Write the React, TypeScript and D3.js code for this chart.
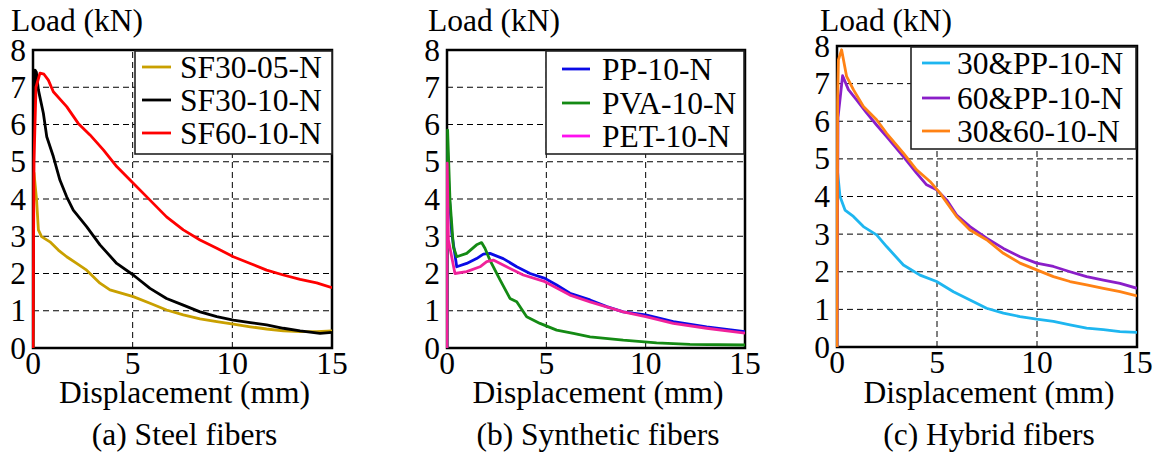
import React from "react";
import * as d3 from "d3";

// ---------- data ----------
const xTicks = [0, 5, 10, 15];
const yTicks = [0, 1, 2, 3, 4, 5, 6, 7, 8];
const xTitle = "Displacement (mm)";
const yTitle = "Load (kN)";

// (a) Steel fibers
const sf30_05: [number, number][] = [
  [0, 0], [0.02, 3.4], [0.05, 4.7], [0.18, 3.97], [0.27, 3.17], [0.43, 2.99], [0.85, 2.85], [1.27, 2.63],
  [1.69, 2.45], [2.19, 2.27], [2.69, 2.09], [3.36, 1.74], [3.86, 1.56], [5.03, 1.38], [5.87, 1.2],
  [6.7, 1.02], [7.54, 0.89], [8.38, 0.78], [9.22, 0.71], [10.05, 0.64], [10.9, 0.57], [11.72, 0.51],
  [12.56, 0.46], [13.4, 0.44], [14.23, 0.44], [15, 0.46],
];
const sf30_10: [number, number][] = [
  [0, 0], [0.04, 6.0], [0.1, 7.46], [0.17, 7.4], [0.27, 6.93], [0.52, 6.3], [0.69, 5.67], [1.02, 5.14],
  [1.35, 4.51], [1.69, 4.06], [2.02, 3.7], [2.69, 3.26], [3.36, 2.77], [4.2, 2.27], [5.03, 1.96],
  [5.87, 1.6], [6.7, 1.33], [7.54, 1.15], [8.38, 0.97], [9.22, 0.84], [10.05, 0.75], [10.9, 0.68],
  [11.72, 0.62], [12.56, 0.53], [13.4, 0.46], [14.4, 0.39], [15, 0.42],
];
const sf60_10: [number, number][] = [
  [0, 0], [0.05, 5.0], [0.15, 7.0], [0.35, 7.38], [0.55, 7.35], [0.77, 7.19], [1.02, 6.88], [1.69, 6.48],
  [2.27, 6.03], [2.86, 5.72], [3.53, 5.32], [4.2, 4.87], [5.03, 4.42], [5.87, 3.97], [6.7, 3.52],
  [7.54, 3.17], [8.38, 2.9], [9.22, 2.68], [10.05, 2.45], [10.9, 2.27], [11.72, 2.09], [12.56, 1.96],
  [13.4, 1.84], [14.23, 1.75], [15, 1.62],
];

// (b) Synthetic fibers
const pp_10: [number, number][] = [
  [0, 0], [0.03, 5.3], [0.1, 4.2], [0.24, 3.08], [0.49, 2.18], [0.99, 2.27], [1.49, 2.4], [1.83, 2.52],
  [2.16, 2.54], [2.83, 2.4], [3.51, 2.18], [4.18, 2.0], [4.93, 1.87], [5.52, 1.69], [6.19, 1.47],
  [7.2, 1.29], [8.04, 1.11], [8.87, 0.97], [10.0, 0.89], [11.39, 0.71], [13.07, 0.57], [15, 0.44],
];
const pva_10: [number, number][] = [
  [0, 0], [0.03, 5.85], [0.15, 3.97], [0.32, 2.72], [0.49, 2.45], [0.99, 2.54], [1.49, 2.77], [1.74, 2.83],
  [1.91, 2.68], [2.16, 2.36], [2.67, 1.83], [3.17, 1.33], [3.51, 1.24], [4.01, 0.84], [4.68, 0.66],
  [5.52, 0.48], [6.36, 0.39], [7.2, 0.3], [8.87, 0.21], [10.55, 0.14], [12.23, 0.1], [15, 0.08],
];
const pet_10: [number, number][] = [
  [0, 0], [0.01, 4.96], [0.07, 2.9], [0.4, 2.0], [0.99, 2.05], [1.66, 2.18], [2.0, 2.32], [2.33, 2.36],
  [3.0, 2.18], [3.84, 1.96], [4.93, 1.78], [6.19, 1.42], [7.2, 1.24], [8.87, 0.97], [10.0, 0.84],
  [11.39, 0.66], [13.07, 0.53], [15, 0.4],
];

// (c) Hybrid fibers
const h30pp_10: [number, number][] = [
  [0, 0], [0.02, 4.7], [0.15, 4.0], [0.4, 3.64], [0.82, 3.47], [1.32, 3.2], [1.98, 2.98], [2.48, 2.67],
  [3.32, 2.18], [4.15, 1.91], [4.98, 1.74], [5.82, 1.47], [6.65, 1.25], [7.48, 1.03], [8.32, 0.9],
  [9.15, 0.81], [9.98, 0.74], [10.82, 0.68], [11.65, 0.59], [12.48, 0.5], [13.32, 0.46], [14.15, 0.41],
  [15, 0.39],
];
const h60pp_10: [number, number][] = [
  [0, 0], [0.05, 6.1], [0.28, 7.21], [0.57, 6.84], [0.98, 6.57], [1.48, 6.22], [1.98, 5.9], [2.48, 5.59],
  [3.32, 5.06], [3.98, 4.62], [4.48, 4.31], [4.98, 4.18], [5.48, 3.91], [5.98, 3.51], [6.65, 3.2],
  [7.48, 2.89], [8.32, 2.62], [9.15, 2.4], [9.98, 2.23], [10.82, 2.14], [11.65, 2.0], [12.48, 1.87],
  [13.32, 1.78], [14.15, 1.69], [15, 1.56],
];
const h3060_10: [number, number][] = [
  [0, 0], [0.03, 6.5], [0.07, 7.63], [0.23, 7.9], [0.48, 7.19], [0.82, 6.84], [1.32, 6.39], [1.98, 6.04],
  [2.48, 5.68], [3.32, 5.15], [3.98, 4.71], [4.65, 4.4], [5.15, 4.09], [5.98, 3.47], [6.65, 3.11],
  [7.48, 2.85], [8.32, 2.49], [9.15, 2.23], [9.98, 2.05], [10.82, 1.87], [11.65, 1.74], [12.48, 1.65],
  [13.32, 1.56], [14.15, 1.47], [15, 1.36],
];

const namesA = ["SF30-05-N", "SF30-10-N", "SF60-10-N"];
const namesB = ["PP-10-N", "PVA-10-N", "PET-10-N"];
const namesC = ["30&PP-10-N", "60&PP-10-N", "30&60-10-N"];
const captions = ["(a) Steel fibers", "(b) Synthetic fibers", "(c) Hybrid fibers"];

// ---------- styles / layout ----------
const FONT = "Liberation Serif";
const FS = 31.5;

type Series = { name: string; data: [number, number][]; color: string; legendColor: string };

const panels = [
  {
    box: { left: 33, right: 332, top: 50, bottom: 348 },
    legend: { x0: 135, x1: 332, y0: 51, y1: 154, lx0: 142, lx1: 171, tx: 180, rows: [67, 100, 133] },
    loadX: 11,
    caption: captions[0],
    series: [
      { name: namesA[0], data: sf30_05, color: "#C9A000", legendColor: "#C9A000" },
      { name: namesA[1], data: sf30_10, color: "#000000", legendColor: "#000000" },
      { name: namesA[2], data: sf60_10, color: "#FF0000", legendColor: "#FF0000" },
    ] as Series[],
  },
  {
    box: { left: 447, right: 745, top: 50, bottom: 348 },
    legend: { x0: 546, x1: 744, y0: 51, y1: 154, lx0: 562, lx1: 590, tx: 602, rows: [69, 103, 136] },
    loadX: 428,
    caption: captions[1],
    series: [
      { name: namesB[0], data: pp_10, color: "#0A0AE6", legendColor: "#0A0AE6" },
      { name: namesB[1], data: pva_10, color: "#148A14", legendColor: "#148A14" },
      { name: namesB[2], data: pet_10, color: "#F0229A", legendColor: "#FF10F0" },
    ] as Series[],
  },
  {
    box: { left: 837, right: 1137, top: 46, bottom: 347 },
    legend: { x0: 911, x1: 1136, y0: 47, y1: 149, lx0: 922, lx1: 950, tx: 957, rows: [63, 98, 131] },
    loadX: 820,
    caption: captions[2],
    series: [
      { name: namesC[0], data: h30pp_10, color: "#1EB6F0", legendColor: "#1EB6F0" },
      { name: namesC[1], data: h60pp_10, color: "#8A1EC8", legendColor: "#8A1EC8" },
      { name: namesC[2], data: h3060_10, color: "#FF8214", legendColor: "#FF8214" },
    ] as Series[],
  },
];

function T(props: { x: number; y: number; anchor?: "start" | "middle" | "end"; children: React.ReactNode }) {
  return (
    <text x={props.x} y={props.y} textAnchor={props.anchor || "start"} fontFamily={FONT} fontSize={FS} fill="#000">
      {props.children}
    </text>
  );
}

function Panel({ p, idx }: { p: (typeof panels)[number]; idx: number }) {
  const { left, right, top, bottom } = p.box;
  const x = d3.scaleLinear().domain([0, 15]).range([left, right]);
  const y = d3.scaleLinear().domain([0, 8]).range([bottom, top]);
  const line = d3
    .line<[number, number]>()
    .x((d) => x(d[0]))
    .y((d) => y(d[1]))
    .curve(d3.curveLinear);
  const cx = (left + right) / 2;
  const clipId = `clip${idx}`;
  const lg = p.legend;
  return (
    <g>
      <defs>
        <clipPath id={clipId}>
          <rect x={left - 1} y={top} width={right - left + 1} height={bottom - top + 1} />
        </clipPath>
      </defs>
      {yTicks
        .filter((t) => t > 0 && t < 8)
        .map((t) => (
          <line key={"gy" + t} x1={left} x2={right} y1={y(t)} y2={y(t)} stroke="#000" strokeWidth={1} strokeDasharray="6,4" />
        ))}
      {xTicks
        .filter((t) => t > 0 && t < 15)
        .map((t) => (
          <line key={"gx" + t} x1={x(t)} x2={x(t)} y1={bottom} y2={top} stroke="#000" strokeWidth={1} strokeDasharray="6,4" />
        ))}
      <rect x={left} y={top} width={right - left} height={bottom - top} fill="none" stroke="#000" strokeWidth={2.5} />
      <g clipPath={`url(#${clipId})`}>
        {p.series.map((s) => (
          <path key={s.name} d={line(s.data) || ""} fill="none" stroke={s.color} strokeWidth={2.8} strokeLinejoin="round" />
        ))}
      </g>
      <rect x={lg.x0} y={lg.y0} width={lg.x1 - lg.x0} height={lg.y1 - lg.y0} fill="#fff" stroke="#222" strokeWidth={1.6} />
      {p.series.map((s, i) => (
        <g key={"lg" + s.name}>
          <line x1={lg.lx0} x2={lg.lx1} y1={lg.rows[i]} y2={lg.rows[i]} stroke={s.legendColor} strokeWidth={2.8} />
          <T x={lg.tx} y={lg.rows[i] + 10.5}>{s.name}</T>
        </g>
      ))}
      {yTicks.map((t) => (
        <T key={"yt" + t} x={left - 7} y={y(t) + 10.5} anchor="end">
          {String(t)}
        </T>
      ))}
      {xTicks.map((t) => (
        <T key={"xt" + t} x={x(t)} y={bottom + 26} anchor="middle">
          {String(t)}
        </T>
      ))}
      <T x={p.loadX} y={31}>{yTitle}</T>
      <T x={cx + 2} y={403} anchor="middle">{xTitle}</T>
      <T x={cx + 2} y={445} anchor="middle">{p.caption}</T>
    </g>
  );
}

export default function App() {
  return (
    <svg width={1156} height={459} style={{ position: "absolute", left: 0, top: 0, fontFamily: FONT }}>
      <rect x={0} y={0} width={1156} height={459} fill="#fff" />
      {panels.map((p, i) => (
        <Panel key={i} p={p} idx={i} />
      ))}
    </svg>
  );
}
